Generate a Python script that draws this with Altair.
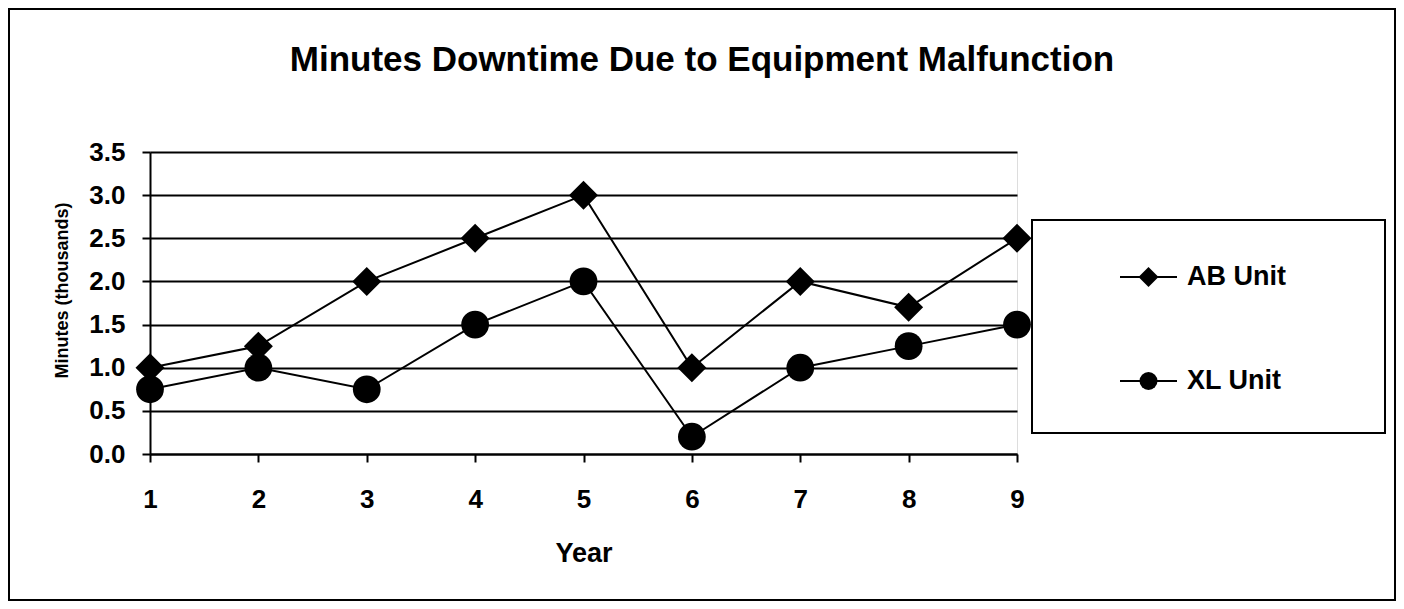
import altair as alt
import pandas as pd

years = [1, 2, 3, 4, 5, 6, 7, 8, 9]
ab_unit = [1.0, 1.25, 2.0, 2.5, 3.0, 1.0, 2.0, 1.7, 2.5]
xl_unit = [0.75, 1.0, 0.75, 1.5, 2.0, 0.2, 1.0, 1.25, 1.5]
series_names = ["AB Unit", "XL Unit"]
y_ticks = [0, 0.5, 1.0, 1.5, 2.0, 2.5, 3.0, 3.5]
title_text = "Minutes Downtime Due to Equipment Malfunction"

df = pd.DataFrame(
    {"Year": years * 2,
     "Minutes": ab_unit + xl_unit,
     "Series": [series_names[0]] * len(years) + [series_names[1]] * len(years)}
)

FONT = "Liberation Sans"
W, H = 867, 302

x_enc = alt.X("Year:Q", scale=alt.Scale(domain=[1, 9], nice=False),
              axis=alt.Axis(values=years, format="d", title="Year", grid=False,
                            labelFlush=False, labelOverlap=False,
                            domainColor="black", domainWidth=2, tickColor="black",
                            tickWidth=2, tickSize=8, labelFontSize=26,
                            labelFontWeight="bold", labelFont=FONT, labelColor="black",
                            labelPadding=24, titleFont=FONT, titleFontSize=27,
                            titleFontWeight="bold", titleColor="black",
                            titleY=99, titleBaseline="middle"))
y_enc = alt.Y("Minutes:Q", scale=alt.Scale(domain=[0, 3.5], nice=False),
              axis=alt.Axis(values=y_ticks, format=".1f", title="Minutes (thousands)",
                            grid=True, gridColor="black", gridWidth=2, gridOpacity=1,
                            labelOverlap=False, labelFlush=False,
                            domainColor="black", domainWidth=2, tickColor="black",
                            tickWidth=2, tickSize=8, labelFontSize=26,
                            labelFontWeight="bold", labelFont=FONT, labelColor="black",
                            labelPadding=17, titleFont=FONT, titleFontSize=18,
                            titleFontWeight="bold", titleColor="black",
                            titleX=-88, titleY=138, titleAngle=-90,
                            titleAlign="center", titleBaseline="middle"))

lines = alt.Chart(df).mark_line(color="black", strokeWidth=2).encode(
    x=x_enc, y=y_enc, detail="Series:N")

points = alt.Chart(df).mark_point(filled=True, color="black", opacity=1).encode(
    x="Year:Q", y="Minutes:Q",
    shape=alt.Shape("Series:N", scale=alt.Scale(domain=series_names, range=["diamond", "circle"]), legend=None),
    size=alt.Size("Series:N", scale=alt.Scale(domain=series_names, range=[841, 770]), legend=None),
)

one = alt.Data(values=[{}])

title = alt.Chart(one).mark_text(text=title_text, font=FONT, fontSize=35, fontWeight="bold",
                                 color="black", align="center", baseline="middle").encode(
    x=alt.value(552), y=alt.value(-92))

border = alt.Chart(one).mark_rect(fillOpacity=0, stroke="black", strokeWidth=2).encode(
    x=alt.value(-141), x2=alt.value(1245), y=alt.value(-143), y2=alt.value(448))

legend_box = alt.Chart(one).mark_rect(fillOpacity=0, stroke="black", strokeWidth=2).encode(
    x=alt.value(882), x2=alt.value(1235), y=alt.value(68), y2=alt.value(281))

legend_layers = []
legend_rows = [125, 229]
legend_shapes = ["diamond", "circle"]
legend_sizes = [400, 324]
for name, yy, shp, sz in zip(series_names, legend_rows, legend_shapes, legend_sizes):
    legend_layers.append(alt.Chart(one).mark_rule(color="black", strokeWidth=2).encode(
        x=alt.value(970), x2=alt.value(1027), y=alt.value(yy)))
    legend_layers.append(alt.Chart(one).mark_point(filled=True, color="black", opacity=1,
                                                    shape=shp, size=sz).encode(
        x=alt.value(998.5), y=alt.value(yy)))
    legend_layers.append(alt.Chart(one).mark_text(text=name, font=FONT, fontSize=27,
                                                   fontWeight="bold", color="black",
                                                   align="left", baseline="middle").encode(
        x=alt.value(1037), y=alt.value(yy)))

chart = alt.layer(lines, points, title, border, legend_box, *legend_layers).properties(
    width=W, height=H,
    autosize=alt.AutoSizeParams(type="none"),
    padding={"left": 142, "top": 144, "right": 379, "bottom": 147},
).configure_view(stroke=None).configure(background="white")

chart.save("out.html", embed_options={"renderer": "svg", "actions": False})
